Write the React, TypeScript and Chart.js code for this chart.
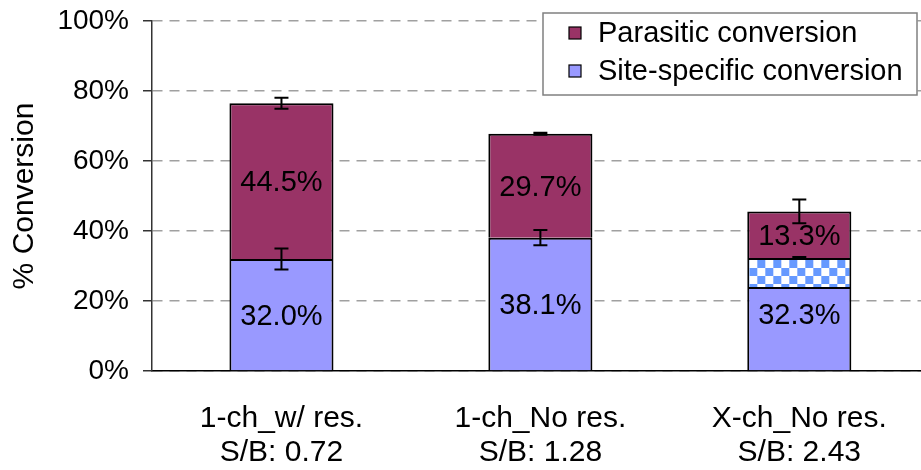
import React, { useEffect, useRef } from "react";
import { Chart, registerables } from "chart.js";

Chart.register(...registerables);

// ---- data ----
const categories: string[][] = [
  ["1-ch_w/ res.", "S/B: 0.72"],
  ["1-ch_No res.", "S/B: 1.28"],
  ["X-ch_No res.", "S/B: 2.43"],
];
const siteSpecific = [32.0, 38.1, 32.3];
const hatchedPart = [0, 0, 8.3];
const parasitic = [44.5, 29.7, 13.3];
const siteError = [3.0, 2.2, 0.3];
const totalError = [1.6, 0.3, 3.4];
const yTicks = [0, 20, 40, 60, 80, 100];
const seriesNames = ["Parasitic conversion", "Site-specific conversion"];

const FONT = "'Liberation Sans', Arial, Helvetica, sans-serif";
const PARA_COLOR = "#993366";
const SITE_COLOR = "#9999FF";

function makeChecker(ctx: CanvasRenderingContext2D): CanvasPattern | null {
  const c = document.createElement("canvas");
  c.width = 16;
  c.height = 16;
  const g = c.getContext("2d");
  if (!g) return null;
  g.fillStyle = "#ffffff";
  g.fillRect(0, 0, 16, 16);
  g.fillStyle = "#6699FF";
  g.fillRect(8, 0, 8, 8);
  g.fillRect(0, 8, 8, 8);
  return ctx.createPattern(c, "repeat");
}

const labelPlugin = {
  id: "segLabels",
  afterDatasetsDraw(chart: any) {
    const { ctx, scales } = chart;
    const x = scales.x;
    const y = scales.y;
    ctx.save();
    ctx.font = `29px ${FONT}`;
    ctx.fillStyle = "#000";
    ctx.textAlign = "center";
    ctx.textBaseline = "middle";
    categories.forEach((_, i) => {
      const cx = x.getPixelForValue(i);
      const s = siteSpecific[i];
      const p = parasitic[i];
      ctx.fillText(s.toFixed(1) + "%", cx, y.getPixelForValue(s / 2) + 2);
      ctx.fillText(p.toFixed(1) + "%", cx, y.getPixelForValue(s + p / 2) + 2);
    });
    ctx.restore();
  },
};

const errorPlugin = {
  id: "errorBars",
  afterDatasetsDraw(chart: any) {
    const { ctx, scales } = chart;
    const x = scales.x;
    const y = scales.y;
    ctx.save();
    ctx.strokeStyle = "#000";
    ctx.lineWidth = 2;
    categories.forEach((_, i) => {
      const cx = x.getPixelForValue(i);
      const pairs = [
        [siteSpecific[i], siteError[i]],
        [siteSpecific[i] + parasitic[i], totalError[i]],
      ];
      pairs.forEach(([v, e]) => {
        const y1 = y.getPixelForValue(v + e);
        const y2 = y.getPixelForValue(v - e);
        ctx.beginPath();
        ctx.moveTo(cx, y1);
        ctx.lineTo(cx, y2);
        ctx.moveTo(cx - 7, y1);
        ctx.lineTo(cx + 7, y1);
        ctx.moveTo(cx - 7, y2);
        ctx.lineTo(cx + 7, y2);
        ctx.stroke();
      });
    });
    ctx.restore();
  },
};

const legendPlugin = {
  id: "boxLegend",
  afterDraw(chart: any) {
    const { ctx, chartArea } = chart;
    const left = chartArea.left + 391;
    const top = chartArea.top - 8;
    const w = 374;
    const h = 82;
    ctx.save();
    ctx.fillStyle = "#fff";
    ctx.fillRect(left, top, w, h);
    ctx.strokeStyle = "#808080";
    ctx.lineWidth = 1.5;
    ctx.strokeRect(left, top, w, h);
    const colors = [PARA_COLOR, SITE_COLOR];
    ctx.font = `29px ${FONT}`;
    ctx.textAlign = "left";
    ctx.textBaseline = "middle";
    seriesNames.forEach((name, i) => {
      const cy = top + 20 + i * 38;
      ctx.fillStyle = colors[i];
      ctx.fillRect(left + 26, cy - 6, 12, 12);
      ctx.strokeStyle = "#000";
      ctx.lineWidth = 1.2;
      ctx.strokeRect(left + 26, cy - 6, 12, 12);
      ctx.fillStyle = "#000";
      ctx.fillText(name, left + 55, cy + 1);
    });
    ctx.restore();
  },
};

export default function App() {
  const ref = useRef<HTMLCanvasElement | null>(null);

  useEffect(() => {
    const canvas = ref.current;
    if (!canvas) return;
    const ctx2d = canvas.getContext("2d") as CanvasRenderingContext2D;
    const checker = makeChecker(ctx2d);

    const alignPattern = {
      id: "alignPattern",
      beforeDatasetsDraw(chart: any) {
        if (!checker || typeof DOMMatrix === "undefined") return;
        const meta = chart.getDatasetMeta(1);
        const idx = hatchedPart.findIndex((v) => v > 0);
        const el = meta && meta.data && meta.data[idx];
        if (!el) return;
        const l = el.x - el.width / 2 + 2;
        const t = Math.min(el.y, el.base) + 2;
        try {
          checker.setTransform(new DOMMatrix([1, 0, 0, 1, l, t]));
        } catch (e) {
          /* ignore */
        }
      },
    };

    const common = {
      borderColor: "#000",
      borderWidth: 2,
      barPercentage: 0.402,
      categoryPercentage: 1,
      stack: "s",
    };

    const chart = new Chart(canvas, {
      type: "bar",
      data: {
        datasets: [
          {
            label: seriesNames[1],
            data: siteSpecific.map((v, i) => ({ x: i, y: v - hatchedPart[i] })),
            backgroundColor: SITE_COLOR,
            ...common,
          },
          {
            label: "hatched",
            data: hatchedPart.map((v, i) => ({ x: i, y: v > 0 ? v : null })),
            backgroundColor: (checker || "#6699FF") as any,
            ...common,
          },
          {
            label: seriesNames[0],
            data: parasitic.map((v, i) => ({ x: i, y: v })),
            backgroundColor: PARA_COLOR,
            ...common,
          },
        ] as any,
      },
      options: {
        responsive: false,
        animation: false,
        layout: { padding: { top: 21, left: 0, right: 0, bottom: 0 } },
        plugins: {
          legend: { display: false },
          tooltip: { enabled: false },
        },
        scales: {
          x: {
            type: "linear",
            stacked: true,
            offset: false,
            min: -0.5,
            max: 2.47,
            afterBuildTicks: (s: any) => {
              s.ticks = categories.map((_, i) => ({ value: i }));
            },
            afterFit: (s: any) => {
              s.height = 99;
              s.paddingLeft = 0;
              s.paddingRight = 0;
            },
            ticks: {
              autoSkip: false,
              maxRotation: 0,
              padding: 31,
              color: "#000",
              font: { size: 30, family: FONT, lineHeight: 1.12 },
              callback: (v: any) => categories[Math.round(Number(v))] || "",
            },
            grid: { drawOnChartArea: false, drawTicks: false, offset: false },
            border: { color: "#000", width: 1.5 },
          },
          y: {
            stacked: true,
            min: 0,
            max: 100,
            afterBuildTicks: (s: any) => {
              s.ticks = yTicks.map((v) => ({ value: v }));
            },
            afterFit: (s: any) => {
              s.width = 152;
              s.paddingTop = 0;
              s.paddingBottom = 0;
            },
            ticks: {
              padding: 14,
              color: "#000",
              font: { size: 28, family: FONT },
              callback: (v: any) => v + "%",
            },
            grid: {
              color: "#a0a0a0",
              lineWidth: 1.5,
              tickColor: "#333",
              tickLength: 9,
              tickBorderDash: [],
            },
            border: { color: "#333", width: 1.5, dash: [10, 7] },
            title: {
              display: true,
              text: "% Conversion",
              color: "#000",
              font: { size: 30, family: FONT },
              padding: { top: 7, bottom: 0 },
            },
          },
        },
      } as any,
      plugins: [alignPattern, labelPlugin, errorPlugin, legendPlugin],
    });

    return () => chart.destroy();
  }, []);

  return (
    <div style={{ position: "fixed", left: 0, top: 0, width: 921, height: 470, background: "#fff" }}>
      <canvas ref={ref} width={921} height={470} style={{ display: "block" }} />
    </div>
  );
}
